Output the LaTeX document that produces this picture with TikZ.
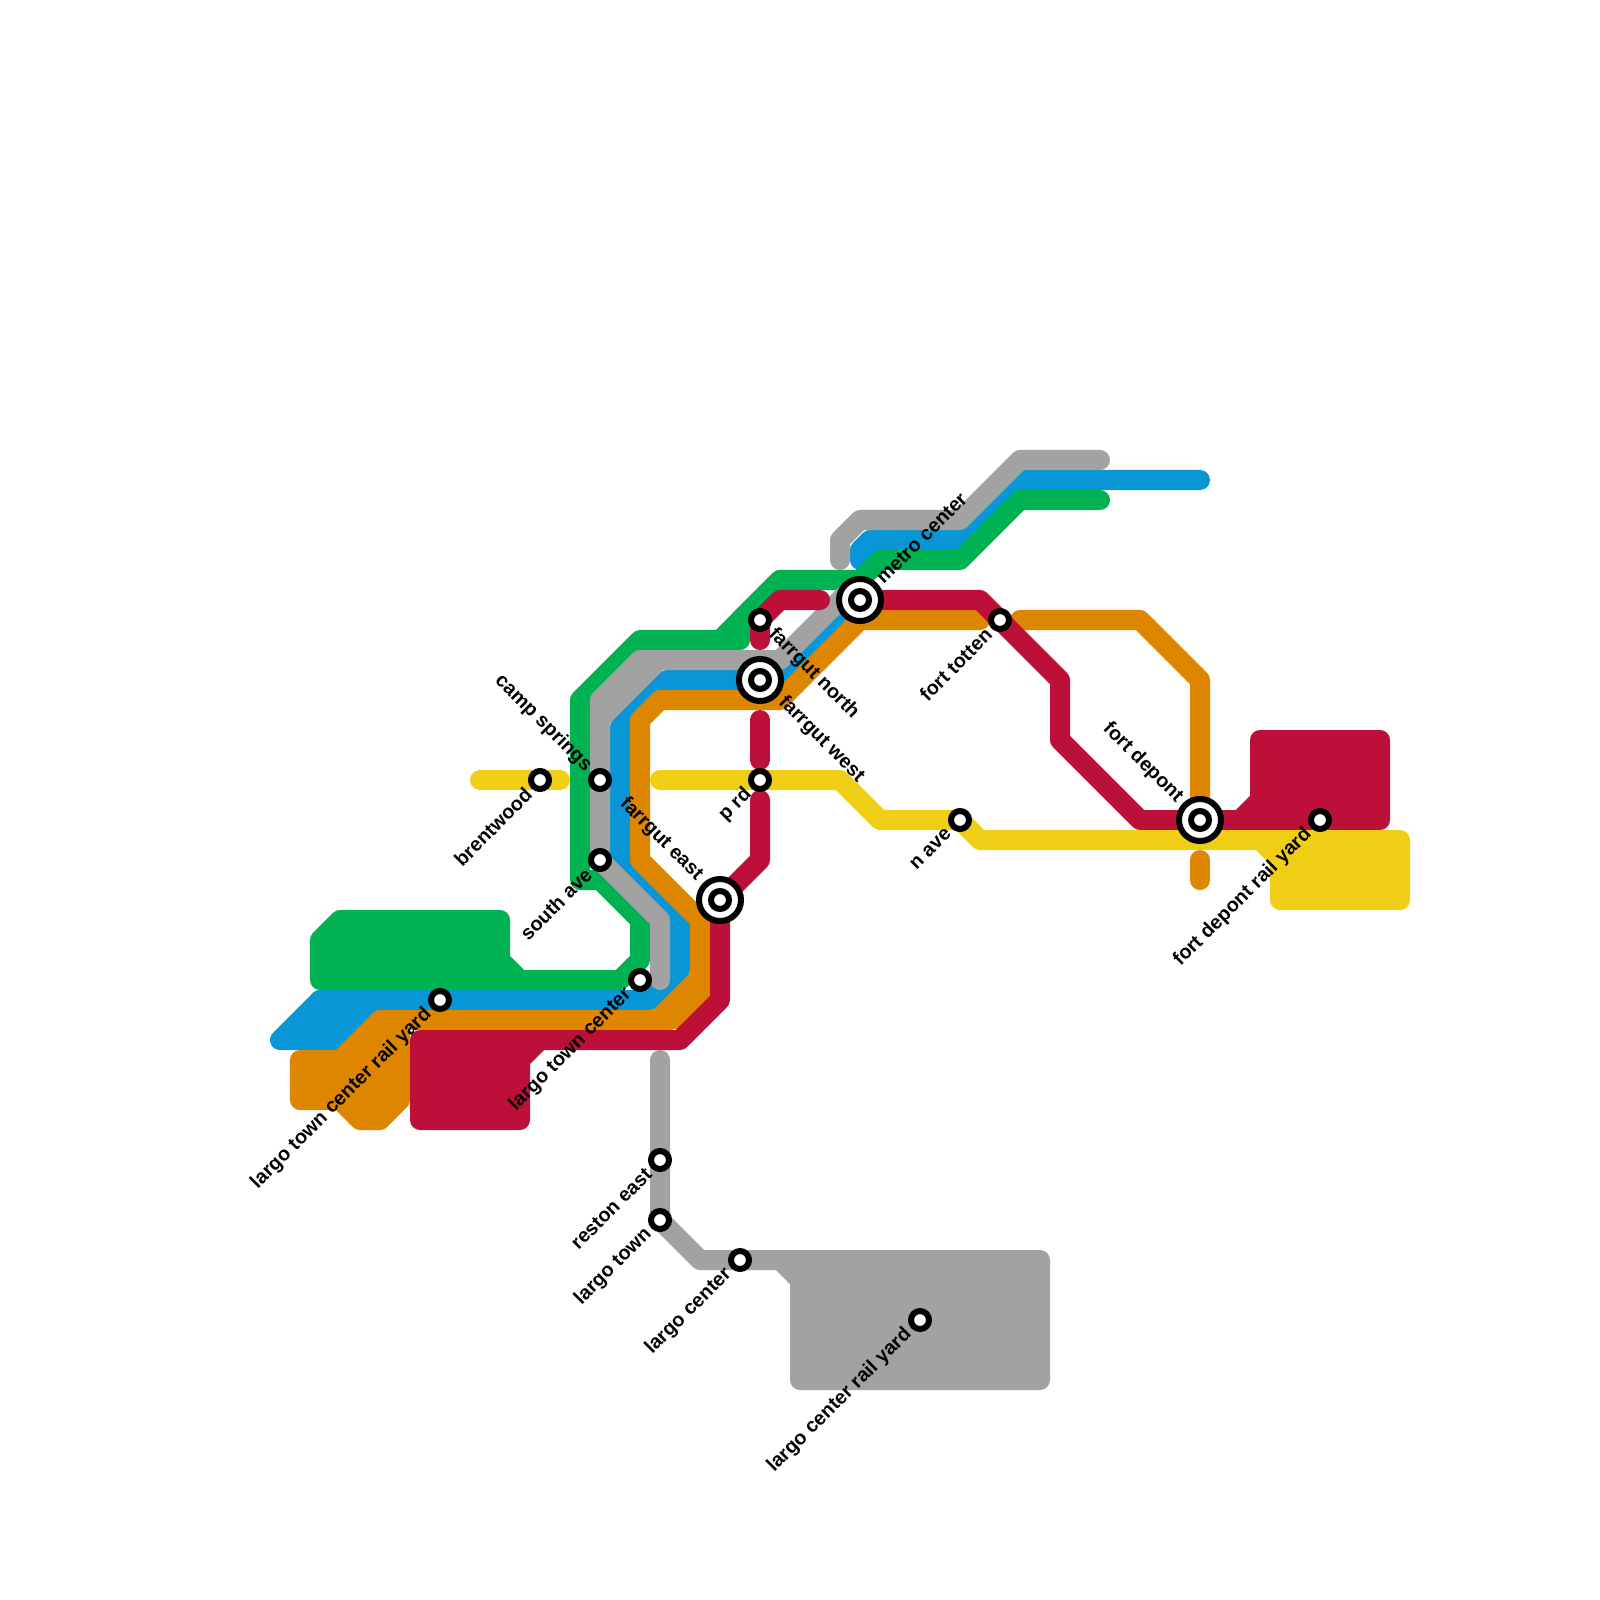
\documentclass[tikz,border=0pt]{standalone}
\usepackage{fontspec}
\setmainfont{Liberation Sans}
\definecolor{mgreen}{HTML}{00B251}
\definecolor{mblue}{HTML}{0896D7}
\definecolor{mgray}{HTML}{A2A2A2}
\definecolor{morange}{HTML}{DF8600}
\definecolor{mred}{HTML}{BD1038}
\definecolor{myellow}{HTML}{F0CE15}
\tikzset{
  ml/.style={line width=0.2cm,line cap=round,line join=round,draw=#1},
  mb/.style={line width=0.2cm,line join=round,draw=#1,fill=#1},
  stn/.style={circle,draw=black,fill=white,line width=0.06cm,minimum size=0.18cm,inner sep=0pt},
  hub/.style={circle,draw=black,fill=white,line width=0.06cm,minimum size=0.42cm,inner sep=0pt},
  lbl/.style={font=\fontsize{5.6}{6.6}\selectfont\bfseries,text=black,inner sep=0pt},
  ue/.style={lbl,rotate=45,anchor=east},
  de/.style={lbl,rotate=-45,anchor=east},
  uw/.style={lbl,rotate=45,anchor=west},
  dw/.style={lbl,rotate=-45,anchor=west}
}
\begin{document}
\begin{tikzpicture}[x=0.01cm,y=-0.01cm]
\useasboundingbox (0,0) rectangle (1600,1600);
\fill[white] (0,0) rectangle (1600,1600);
% blue
\draw[ml=mblue] (1200,480)--(1020,480)--(960,540)--(870,540)--(860,550)--(860,560);
\fill[mblue] (860,540)--(882,540)--(882,556)--(860,566)--cycle;
\draw[ml=mblue] (860,600)--(780,680)--(667,680)--(620,727)--(620,860)--(680,920)--(680,970)--(650,1000)--(320,1000);
\filldraw[mb=mblue] (320,1000)--(280,1040)--(340,1040)--(380,1000)--cycle;
% green
\draw[ml=mgreen] (1100,500)--(1020,500)--(960,560)--(880,560)--(860,580)--(780,580)--(740,620)--(740,640)--(640,640)--(580,700)--(580,880)--(600,880)--(640,920)--(640,960)--(620,980)--(520,980);
\draw[ml=mgreen] (780,580)--(720,640);
\filldraw[mb=mgreen] (320,940)--(340,920)--(500,920)--(500,960)--(520,980)--(320,980)--cycle;
% gray
\draw[ml=mgray] (1100,460)--(1020,460)--(960,520)--(860,520)--(840,540)--(840,560);
\draw[ml=mgray] (845,595)--(780,660)--(640,660)--(600,700)--(600,860)--(660,920)--(660,980);
\fill[mgray] (605,728)--(663,670)--(630,660)--(610,680)--cycle;
\draw[ml=mgray] (660,1060)--(660,1220)--(700,1260)--(780,1260);
\filldraw[mb=mgray] (780,1260)--(1040,1260)--(1040,1380)--(800,1380)--(800,1280)--cycle;
% orange
\draw[ml=morange] (380,1020)--(670,1020)--(700,990)--(700,920)--(640,860)--(640,720)--(660,700)--(780,700)--(860,620)--(980,620);
\filldraw[mb=morange] (300,1060)--(340,1060)--(380,1020)--(400,1020)--(400,1100)--(380,1120)--(360,1120)--(340,1100)--(300,1100)--cycle;
\fill[morange] (690,973)--(653,1010)--(678,1031)--(714,995)--(694,973)--cycle;
\draw[ml=morange] (1020,620)--(1140,620)--(1200,680)--(1200,800);
\draw[ml=morange] (1200,860)--(1200,880);
% red
\draw[ml=mred] (820,600)--(780,600)--(760,620)--(760,640);
\draw[ml=mred] (760,720)--(760,760);
\draw[ml=mred] (760,800)--(760,860)--(720,900)--(720,1000)--(680,1040)--(540,1040);
\filldraw[mb=mred] (420,1040)--(540,1040)--(520,1060)--(520,1120)--(420,1120)--cycle;
\draw[ml=mred] (860,600)--(980,600)--(1060,680)--(1060,740)--(1140,820)--(1240,820);
\filldraw[mb=mred] (1240,820)--(1260,800)--(1260,740)--(1380,740)--(1380,820)--cycle;
% yellow
\draw[ml=myellow] (480,780)--(560,780);
\draw[ml=myellow] (660,780)--(840,780)--(880,820)--(960,820)--(980,840)--(1260,840);
\filldraw[mb=myellow] (1260,840)--(1400,840)--(1400,900)--(1280,900)--(1280,860)--cycle;
% stations
\node[stn] (brentwood) at (540,780) {};
\node[stn] (camp) at (600,780) {};
\node[stn] (south) at (600,860) {};
\node[stn] (ltc) at (640,980) {};
\node[stn] (ltcry) at (440,1000) {};
\node[stn] (reston) at (660,1160) {};
\node[stn] (ltown) at (660,1220) {};
\node[stn] (lcenter) at (740,1260) {};
\node[stn] (lcry) at (920,1320) {};
\node[stn] (fnorth) at (760,620) {};
\node[stn] (prd) at (760,780) {};
\node[stn] (nave) at (960,820) {};
\node[stn] (totten) at (1000,620) {};
\node[stn] (fdry) at (1320,820) {};
\node[hub] (feastO) at (720,900) {};
\node[stn] (feast) at (720,900) {};
\node[hub] (fwestO) at (760,680) {};
\node[stn] (fwest) at (760,680) {};
\node[hub] (metroO) at (860,600) {};
\node[stn] (metro) at (860,600) {};
\node[hub] (fdepO) at (1200,820) {};
\node[stn] (fdep) at (1200,820) {};
% labels
\node[ue] (t1) at (529,791) {brentwood};
\node[de] (t2) at (589,769) {camp springs};
\node[ue] (t3) at (589,871) {south ave};
\node[ue] (t4) at (629,991) {largo town center};
\node[ue] (t5) at (429,1011) {largo town center rail yard};
\node[ue] (t6) at (649,1171) {reston east};
\node[ue] (t7) at (649,1231) {largo town};
\node[ue] (t8) at (729,1271) {largo center};
\node[ue] (t9) at (909,1331) {largo center rail yard};
\node[dw] (t10) at (771,631) {farrgut north};
\node[ue] (t11) at (749,791) {p rd};
\node[ue] (t12) at (949,831) {n ave};
\node[ue] (t13) at (989,631) {fort totten};
\node[ue] (t14) at (1309,831) {fort depont rail yard};
\node[de] (t15) at (700,878) {farrgut east};
\node[dw] (t16) at (781,699) {farrgut west};
\node[uw] (t17) at (879,581) {metro center};
\node[de] (t18) at (1180,800) {fort depont};
\end{tikzpicture}
\end{document}
